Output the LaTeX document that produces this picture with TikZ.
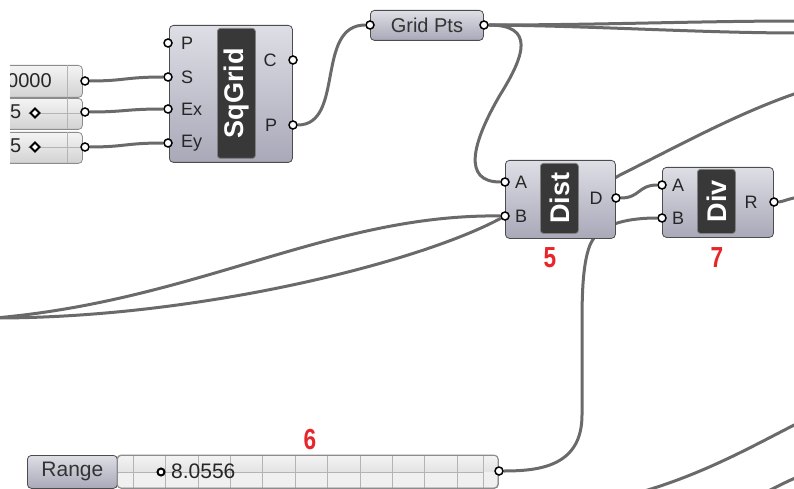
\documentclass[tikz,border=0pt]{standalone}
\usepackage{fontspec}
\setmainfont{Liberation Sans}
\usetikzlibrary{calc}
\pgfdeclarelayer{background}
\pgfsetlayers{background,main}
\definecolor{wirec}{HTML}{6A6A6A}
\definecolor{compTop}{HTML}{DEDEE6}
\definecolor{compBot}{HTML}{A8A8B8}
\definecolor{darkbox}{HTML}{383838}
\definecolor{slTop}{HTML}{F4F4F4}
\definecolor{slBot}{HTML}{D2D2D2}
\definecolor{gridc}{HTML}{B4B4B4}
\definecolor{rednum}{HTML}{E8262A}
\newcommand{\fs}[1]{\fontsize{#1}{#1}\selectfont}
\begin{document}
\begin{tikzpicture}[x=1pt,y=-1pt,
  comp/.style={draw=black!70, line width=0.8pt, rounded corners=4pt, top color=compTop, bottom color=compBot, inner sep=0pt, anchor=north west},
  lblbox/.style={draw=black!50, fill=darkbox, line width=0.8pt, rounded corners=3pt, inner sep=0pt, anchor=north west},
  slider/.style={draw=black!45, line width=0.8pt, rounded corners=4pt, top color=slTop, bottom color=slBot, inner sep=0pt, anchor=north west},
  port/.style={circle, draw=black, fill=white, line width=1.5pt, minimum size=8pt, inner sep=0pt},
  wire/.style={draw=wirec, line width=3pt},
  gridl/.style={draw=gridc, line width=0.6pt},
  plabel/.style={font=\fs{18}, text=black!85, inner sep=0pt},
  plabelsm/.style={font=\fs{18}, text=black!85, inner sep=0pt},
  title/.style={font=\bfseries\fs{27}, text=white, rotate=90, inner sep=0pt},
  rnum/.style={font=\bfseries\fs{29}, text=rednum, xscale=0.78, inner sep=0pt}
]
\useasboundingbox (0,0) rectangle (794,489);
\clip (0,0) rectangle (794,489);

% ---------- left sliders (cut off) ----------
\begin{scope}
\clip (10,0) rectangle (200,200);
\node[slider, minimum width=100pt, minimum height=32pt] (s1) at (-18,65) {};
\node[slider, minimum width=100pt, minimum height=31pt] (s2) at (-18,98) {};
\node[slider, minimum width=100pt, minimum height=31pt] (s3) at (-18,132) {};
\draw[gridl] (67,65) -- (67,97);
\draw[gridl] (67,98) -- (67,129);
\draw[gridl] (67,132) -- (67,163);
\draw[gridl] (28,113) -- (81,113);
\draw[gridl] (28,147) -- (81,147);
\node[anchor=west, font=\fs{20}, text=black!85, inner sep=0pt] (s1t) at (7,81) {0000};
\node[anchor=west, font=\fs{20}, text=black!85, inner sep=0pt] (s2t) at (10,112) {5};
\node[anchor=west, font=\fs{20}, text=black!85, inner sep=0pt] (s3t) at (10,146) {5};
\draw[black, line width=1.8pt, fill=white] (35,108.5) -- (39.5,113) -- (35,117.5) -- (30.5,113) -- cycle;
\draw[black, line width=1.8pt, fill=white] (35,142.5) -- (39.5,147) -- (35,151.5) -- (30.5,147) -- cycle;
\end{scope}

% ---------- SqGrid ----------
\node[comp, minimum width=123pt, minimum height=137pt] (sq) at (169,25) {};
\node[lblbox, minimum width=38pt, minimum height=130pt] (sqlb) at (217,28) {};
\node[title] (sqt) at (sqlb.center) {SqGrid};
\node[plabel, anchor=west] (lP) at (181,43) {P};
\node[plabel, anchor=west] (lS) at (181,77) {S};
\node[plabel, anchor=west] (lEx) at (181,109) {Ex};
\node[plabel, anchor=west] (lEy) at (181,143) {Ey};
\node[plabel] (lC) at (270,60) {C};
\node[plabel] (lPo) at (271,125) {P};

% ---------- Grid Pts ----------
\node[comp, minimum width=113pt, minimum height=30pt] (gp) at (370,10) {};
\node[font=\fs{20}, text=black!80, inner sep=0pt] (gpt) at (gp.center) {Grid Pts};

% ---------- Dist ----------
\node[comp, minimum width=110pt, minimum height=78pt] (dist) at (505,160) {};
\node[lblbox, minimum width=38pt, minimum height=70pt] (distlb) at (540,163) {};
\node[title] (distt) at (distlb.center) {Dist};
\node[plabelsm] (dA) at (521,182) {A};
\node[plabelsm] (dB) at (521,216) {B};
\node[plabelsm] (dD) at (596,198) {D};
\node[rnum] (n5) at (550,258) {5};

% ---------- Div ----------
\node[comp, minimum width=111pt, minimum height=70pt] (div) at (662,167) {};
\node[lblbox, minimum width=38pt, minimum height=64pt] (divlb) at (697,169) {};
\node[title] (divt) at (divlb.center) {Div};
\node[plabelsm] (vA) at (678,185) {A};
\node[plabelsm] (vB) at (678,218) {B};
\node[plabelsm] (vR) at (751,202) {R};
\node[rnum] (n7) at (717,258) {7};

% ---------- Range slider ----------
\node[comp, minimum width=90pt, minimum height=33pt] (rl) at (27,455) {};
\node[font=\fs{21}, text=black!80, inner sep=0pt] (rlt) at (rl.center) {Range};
\node[slider, minimum width=381pt, minimum height=33pt] (rs) at (117,455) {};
\fill[black!6, rounded corners=3pt] (118,472) rectangle (497,487.5);
\foreach \i in {0,...,10} {\draw[gridl] ({133+32.4*\i},456) -- ({133+32.4*\i},487.5);}
\draw[gridl] (483,456) -- (483,487.5);
\draw[gridl] (118,472) -- (483,472);
\draw[black!45, line width=0.8pt, rounded corners=4pt] (117,455) rectangle (498,488);
\draw[black, line width=2pt, fill=white] (161,472) circle (3.5pt);
\node[anchor=west, font=\fs{21}, text=black!85, inner sep=0pt] (rval) at (171,471) {8.0556};
\node[rnum] (n6) at (310,440) {6};

% ---------- ports ----------
\node[port] (s1o) at (85,81) {};
\node[port] (s2o) at (85,112) {};
\node[port] (s3o) at (85,147) {};
\node[port] (sqPi) at (168,43) {};
\node[port] (sqS) at (168,77) {};
\node[port] (sqEx) at (168,109) {};
\node[port] (sqEy) at (168,143) {};
\node[port] (sqC) at (293,60) {};
\node[port] (sqPo) at (293,125) {};
\node[port] (gpi) at (370,25) {};
\node[port] (gpo) at (484,25) {};
\node[port] (distA) at (505,182) {};
\node[port] (distB) at (505,216) {};
\node[port] (distD) at (616,198) {};
\node[port] (divA) at (662,185) {};
\node[port] (divB) at (662,218) {};
\node[port] (divR) at (774,202) {};
\node[port] (rangeOut) at (499,471) {};

\coordinate (eL) at (-5,318);
\coordinate (eR1) at (800,21);
\coordinate (eR2) at (800,33);
\coordinate (eR3) at (800,92);
\coordinate (eR4) at (800,197);
\coordinate (eR5) at (800,422);
\coordinate (eB5) at (610,500);
\coordinate (eR6) at (800,476);
\coordinate (eB6) at (760,495);

% ---------- wires ----------
\begin{pgfonlayer}{background}
\draw[wire] (s1o) .. controls (125,81) and (125,77) .. (sqS);
\draw[wire] (s2o) .. controls (125,112) and (125,109) .. (sqEx);
\draw[wire] (s3o) .. controls (125,147) and (125,143) .. (sqEy);
\draw[wire] (sqPo) .. controls (345,125) and (315,25) .. (gpi);
\draw[wire] (gpo) .. controls (600,25) and (700,21) .. (eR1);
\draw[wire] (gpo) .. controls (600,26) and (700,33) .. (eR2);
\draw[wire] (gpo) .. controls (535,25) and (525,55) .. (500,95) .. controls (472,143) and (462,182) .. (distA);
\draw[wire] (eL) .. controls (200,300) and (330,214) .. (distB);
\draw[wire] (eL) .. controls (200,318) and (420,262) .. (distB);
\draw[wire] (distD) .. controls (600,195) and (600,186) .. (620,175) .. controls (680,145) and (740,112) .. (eR3);
\draw[wire] (distD) .. controls (640,198) and (638,185) .. (divA);
\draw[wire] (divB) .. controls (622,218) and (598,226) .. (590,245) .. controls (582,265) and (582,300) .. (582,330) -- (582,415) .. controls (582,466) and (540,471) .. (rangeOut);
\draw[wire] (divR) .. controls (782,202) and (790,198) .. (eR4);
\draw[wire] (eR5) .. controls (745,450) and (690,482) .. (eB5);
\draw[wire] (eR6) .. controls (785,482) and (775,488) .. (eB6);
\end{pgfonlayer}
\end{tikzpicture}
\end{document}
